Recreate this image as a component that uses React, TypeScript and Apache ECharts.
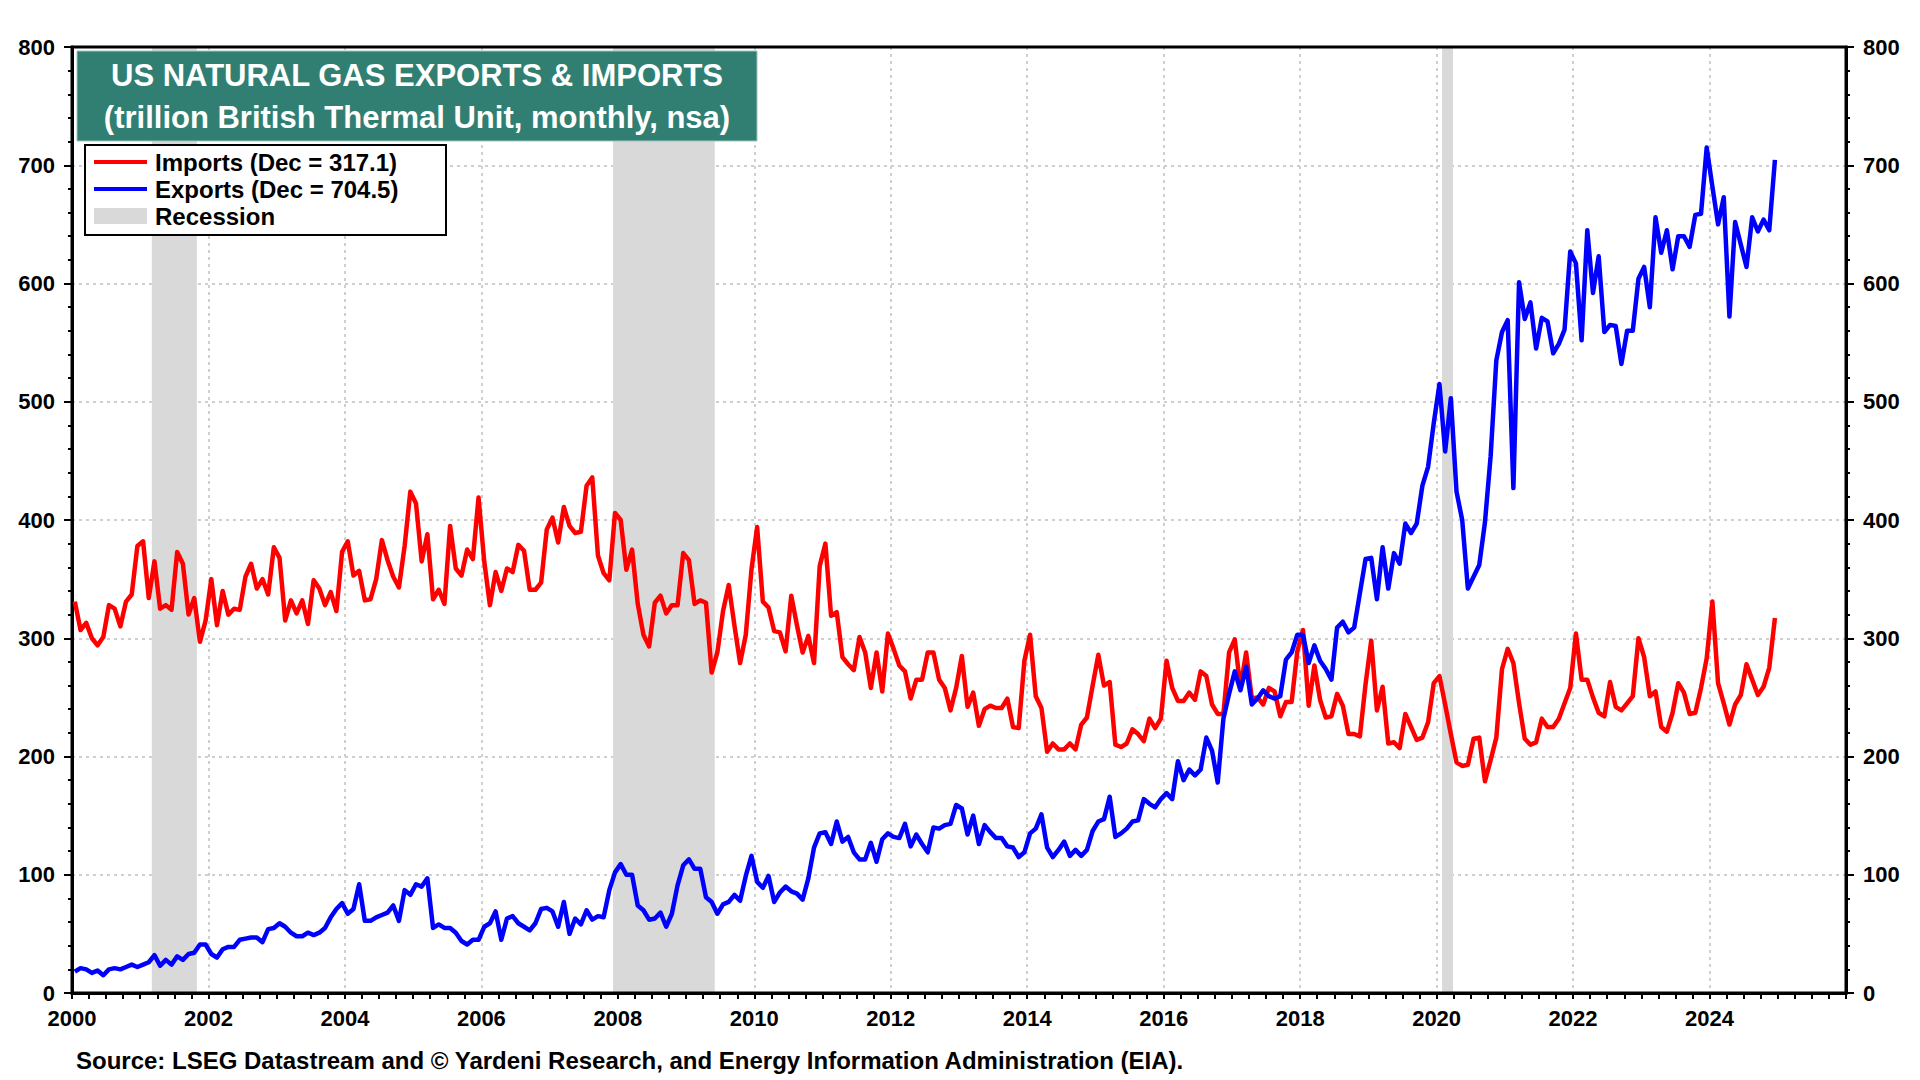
import React, { useEffect, useRef } from "react";
import * as echarts from "echarts";

const START_YEAR = 2000;

// Monthly US natural gas imports, trillion Btu (Jan 2000 .. Dec 2024)
const imports: number[] = [
  331, 307, 313, 300, 294, 301, 328, 325, 310, 331, 337, 378, // 2000
  382, 334, 365, 325, 328, 324, 373, 363, 320, 334, 297, 315, // 2001
  350, 311, 340, 320, 325, 324, 352, 363, 342, 350, 337, 377, // 2002
  368, 315, 332, 321, 332, 312, 349, 342, 328, 339, 323, 373, // 2003
  382, 353, 357, 332, 333, 350, 383, 366, 352, 343, 378, 424, // 2004
  414, 365, 388, 333, 341, 329, 395, 359, 353, 375, 367, 419, // 2005
  365, 328, 356, 340, 359, 356, 379, 374, 341, 341, 347, 392, // 2006
  402, 381, 411, 395, 389, 390, 429, 436, 370, 355, 349, 406, // 2007
  400, 358, 375, 329, 303, 293, 330, 336, 321, 328, 328, 372, // 2008
  366, 329, 332, 330, 271, 288, 323, 345, 311, 279, 303, 358, // 2009
  394, 331, 326, 306, 305, 289, 336, 311, 288, 302, 279, 361, // 2010
  380, 319, 322, 284, 278, 273, 301, 288, 258, 288, 255, 304, // 2011
  291, 277, 272, 249, 265, 265, 288, 288, 265, 258, 239, 258, // 2012
  285, 242, 254, 226, 240, 243, 241, 241, 249, 225, 224, 281, // 2013
  303, 251, 241, 204, 211, 206, 206, 211, 206, 227, 233, 260, // 2014
  286, 260, 263, 210, 208, 211, 223, 219, 213, 232, 224, 232, // 2015
  281, 258, 247, 247, 254, 248, 272, 268, 244, 236, 236, 288, // 2016
  299, 258, 288, 249, 250, 244, 258, 255, 234, 246, 246, 289, // 2017
  307, 243, 277, 248, 233, 234, 253, 243, 219, 219, 217, 261, // 2018
  298, 239, 259, 211, 212, 207, 236, 225, 214, 216, 229, 262, // 2019
  268, 244, 219, 195, 192, 193, 215, 216, 179, 197, 216, 274, // 2020
  291, 279, 245, 215, 210, 212, 232, 225, 225, 232, 245, 258, // 2021
  304, 265, 265, 250, 237, 234, 263, 242, 239, 245, 251, 300, // 2022
  284, 251, 255, 225, 221, 237, 262, 254, 236, 237, 258, 283, // 2023
  331, 262, 245, 227, 244, 252, 278, 265, 252, 259, 275, 317.1, // 2024
];

// Monthly US natural gas exports, trillion Btu (Jan 2000 .. Dec 2024)
const exportsData: number[] = [
  18, 21, 20, 17, 19, 15, 20, 21, 20, 22, 24, 22, // 2000
  24, 26, 32, 23, 28, 24, 31, 28, 33, 34, 41, 41, // 2001
  33, 30, 37, 39, 39, 45, 46, 47, 47, 43, 54, 55, // 2002
  59, 56, 51, 48, 48, 51, 49, 51, 55, 64, 71, 76, // 2003
  67, 71, 92, 61, 61, 64, 66, 68, 74, 61, 87, 83, // 2004
  92, 90, 97, 55, 58, 55, 55, 51, 44, 41, 45, 45, // 2005
  56, 59, 69, 45, 63, 65, 59, 56, 53, 59, 71, 72, // 2006
  69, 56, 77, 50, 63, 58, 70, 62, 65, 64, 87, 102, // 2007
  109, 100, 100, 74, 70, 62, 63, 68, 56, 67, 91, 108, // 2008
  113, 105, 105, 81, 77, 67, 75, 77, 83, 78, 99, 116, // 2009
  94, 89, 99, 77, 85, 90, 86, 84, 79, 97, 123, 135, // 2010
  136, 126, 145, 128, 132, 119, 113, 113, 127, 111, 130, 135, // 2011
  132, 131, 143, 124, 134, 126, 119, 140, 139, 142, 143, 159, // 2012
  156, 134, 150, 126, 142, 136, 131, 131, 124, 123, 115, 119, // 2013
  135, 139, 151, 123, 115, 121, 128, 116, 121, 116, 121, 137, // 2014
  145, 147, 166, 132, 135, 139, 145, 146, 164, 160, 157, 164, // 2015
  169, 164, 196, 180, 189, 184, 189, 216, 205, 178, 232, 253, // 2016
  272, 256, 276, 244, 249, 256, 251, 249, 251, 282, 288, 303, // 2017
  303, 279, 294, 281, 274, 265, 309, 314, 305, 309, 338, 367, // 2018
  368, 333, 377, 342, 372, 363, 397, 389, 397, 429, 445, 482, // 2019
  515, 458, 503, 424, 400, 342, 352, 362, 398, 454, 535, 559, // 2020
  569, 427, 601, 570, 584, 545, 571, 568, 541, 549, 561, 627, // 2021
  617, 552, 645, 592, 623, 559, 565, 564, 532, 560, 560, 604, // 2022
  614, 580, 656, 626, 645, 612, 640, 640, 631, 658, 659, 715, // 2023
  682, 650, 673, 572, 652, 633, 614, 656, 644, 654, 645, 704.5, // 2024
];

const recessionStart: number[] = [2001.17, 2007.93, 2020.08];
const recessionEnd: number[] = [2001.83, 2009.42, 2020.24];

const titleLines: string[] = [
  "US NATURAL GAS EXPORTS & IMPORTS",
  "(trillion British Thermal Unit, monthly, nsa)",
];
const legendLabels: string[] = [
  "Imports (Dec = 317.1)",
  "Exports (Dec = 704.5)",
  "Recession",
];
const sourceText =
  "Source: LSEG Datastream and \u00A9 Yardeni Research, and Energy Information Administration (EIA).";

const FONT = '"Liberation Sans", Arial, Helvetica, sans-serif';
const RED = "#ff0000";
const BLUE = "#0000ff";
const GREY = "#d9d9d9";
const TEAL = "#317f72";

function toPoints(values: number[]): [number, number][] {
  return values.map((v, i) => [START_YEAR + (i + 0.5) / 12, v]);
}

const gridSplit = {
  show: true,
  showMinLine: false,
  showMaxLine: false,
  lineStyle: { color: "#cfcfcf", width: 2, type: [3, 4] },
};

function yAxisCfg(position: "left" | "right") {
  return {
    type: "value",
    position,
    min: 0,
    max: 800,
    interval: 100,
    z: 1,
    axisLine: { show: true, lineStyle: { color: "#000", width: 3 } },
    axisTick: { show: true, length: 8, lineStyle: { color: "#000", width: 2 } },
    minorTick: { show: true, splitNumber: 5, length: 4, lineStyle: { color: "#000", width: 2 } },
    axisLabel: {
      color: "#000",
      fontSize: 22,
      fontWeight: "bold",
      fontFamily: FONT,
      margin: 17,
    },
    splitLine: position === "left" ? gridSplit : { show: false },
  };
}

export default function App() {
  const ref = useRef<HTMLDivElement>(null);

  useEffect(() => {
    if (!ref.current) return;
    const chart = echarts.init(ref.current, undefined, { renderer: "svg" });

    const legendX = 94;
    const legendTextX = 155;
    const rowY = [162, 189, 216];

    const option: any = {
      animation: false,
      backgroundColor: "#ffffff",
      grid: {
        left: 72,
        right: 74,
        top: 47,
        bottom: 87,
        show: true,
        z: 2,
        borderColor: "#000",
        borderWidth: 3,
        backgroundColor: "transparent",
      },
      xAxis: {
        type: "value",
        min: 2000,
        max: 2026,
        interval: 2,
        z: 1,
        axisLine: { show: true, onZero: false, lineStyle: { color: "#000", width: 3 } },
        axisTick: { show: true, length: 6, lineStyle: { color: "#000", width: 2 } },
        minorTick: { show: true, splitNumber: 8, length: 6, lineStyle: { color: "#000", width: 2 } },
        axisLabel: {
          color: "#000",
          fontSize: 22,
          fontWeight: "bold",
          fontFamily: FONT,
          margin: 14,
          formatter: (v: number) => (v >= 2026 ? "" : String(v)),
        },
        splitLine: gridSplit,
      },
      yAxis: [yAxisCfg("left"), yAxisCfg("right")],
      series: [
        {
          name: "Recession",
          type: "line",
          data: [],
          z: 0,
          silent: true,
          markArea: {
            silent: true,
            itemStyle: { color: GREY, opacity: 1 },
            data: recessionStart.map((s, i) => [{ xAxis: s }, { xAxis: recessionEnd[i] }]),
          },
        },
        {
          name: "Imports",
          type: "line",
          data: toPoints(imports),
          showSymbol: false,
          symbol: "none",
          z: 3,
          lineStyle: { color: RED, width: 4.5, join: "round" },
          itemStyle: { color: RED },
        },
        {
          name: "Exports",
          type: "line",
          data: toPoints(exportsData),
          showSymbol: false,
          symbol: "none",
          z: 4,
          lineStyle: { color: BLUE, width: 4.5, join: "round" },
          itemStyle: { color: BLUE },
        },
      ],
      graphic: [
        {
          type: "rect",
          z: 10,
          shape: { x: 77, y: 51, width: 680, height: 90 },
          style: { fill: TEAL, stroke: "#9cc8be", lineWidth: 1 },
        },
        {
          type: "text",
          z: 11,
          x: 417,
          y: 75,
          style: {
            text: titleLines[0],
            fill: "#fff",
            fontSize: 31,
            fontWeight: "bold",
            fontFamily: FONT,
            align: "center",
            verticalAlign: "middle",
          },
        },
        {
          type: "text",
          z: 11,
          x: 417,
          y: 117,
          style: {
            text: titleLines[1],
            fill: "#fff",
            fontSize: 31,
            fontWeight: "bold",
            fontFamily: FONT,
            align: "center",
            verticalAlign: "middle",
          },
        },
        {
          type: "rect",
          z: 10,
          shape: { x: 85, y: 145, width: 361, height: 90 },
          style: { fill: "#fff", stroke: "#000", lineWidth: 2 },
        },
        {
          type: "line",
          z: 11,
          shape: { x1: legendX, y1: rowY[0], x2: legendX + 53, y2: rowY[0] },
          style: { stroke: RED, lineWidth: 4 },
        },
        {
          type: "line",
          z: 11,
          shape: { x1: legendX, y1: rowY[1], x2: legendX + 53, y2: rowY[1] },
          style: { stroke: BLUE, lineWidth: 4 },
        },
        {
          type: "rect",
          z: 11,
          shape: { x: legendX, y: rowY[2] - 8, width: 53, height: 16 },
          style: { fill: GREY },
        },
        ...legendLabels.map((t, i) => ({
          type: "text",
          z: 11,
          x: legendTextX,
          y: rowY[i],
          style: {
            text: t,
            fill: "#000",
            fontSize: 24,
            fontWeight: "bold",
            fontFamily: FONT,
            align: "left",
            verticalAlign: "middle",
          },
        })),
        {
          type: "text",
          z: 11,
          x: 76,
          y: 1060,
          style: {
            text: sourceText,
            fill: "#000",
            fontSize: 24,
            fontWeight: "bold",
            fontFamily: FONT,
            align: "left",
            verticalAlign: "middle",
          },
        },
      ],
    };

    chart.setOption(option);
    return () => {
      chart.dispose();
    };
  }, []);

  return (
    <div
      ref={ref}
      style={{
        position: "fixed",
        left: 0,
        top: 0,
        width: "1920px",
        height: "1080px",
        background: "#fff",
      }}
    />
  );
}
